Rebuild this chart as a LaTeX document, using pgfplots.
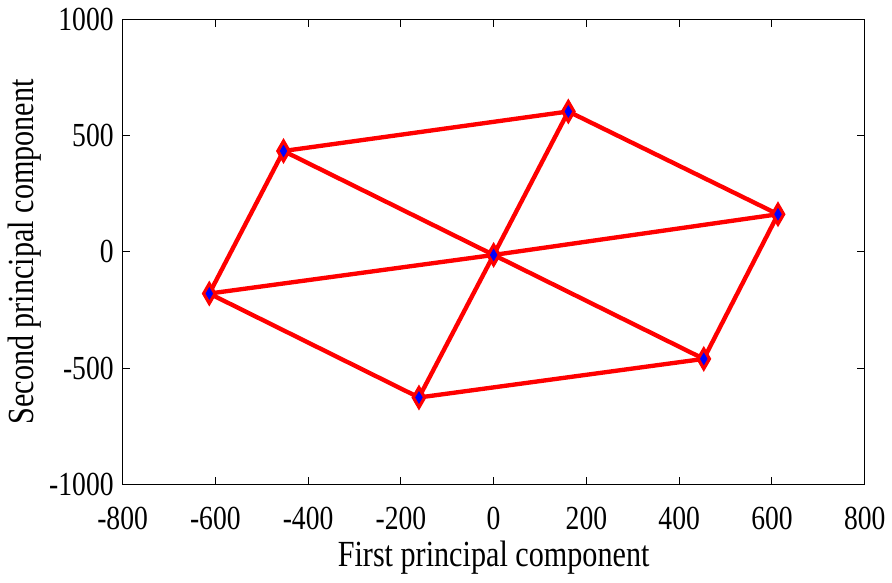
\documentclass[border=0pt]{standalone}
\usepackage{fontspec}
\setmainfont{Liberation Serif}
\usepackage{pgfplots}
\pgfplotsset{compat=1.18}

\begin{document}
\begin{tikzpicture}
\begin{axis}[
  scale only axis, width=375bp, height=235bp,
  xmin=-800, xmax=800, ymin=-1000, ymax=1000,
  xtick={-800,-600,...,800}, ytick={-1000,-500,0,500,1000},
  tick align=inside, major tick length=4bp,
  axis line style={line width=0.7bp},
  every tick/.style={black, line width=0.5bp},
  /pgf/number format/assume math mode=true,
  /pgf/number format/1000 sep={},
  tick label style={font=\fontsize{14}{16}\selectfont, transform shape, yscale=1.22},
  xticklabel style={yshift=-6bp},
  yticklabel style={xshift=-1bp},
  label style={font=\fontsize{15.3}{17}\selectfont, transform shape, yscale=1.22},
  xlabel={First principal component},
  ylabel={Second principal component},
  xlabel style={yshift=2.5bp},
  ylabel style={yshift=-3bp},
  clip=false,
]
% hexagon and diagonals
\addplot[red, line width=2.2bp, line join=round, mark=none] coordinates {
  (-613,-179) (-453,434) (161,604) (613,162) (453,-460) (-161,-626) (-613,-179)};
\addplot[red, line width=2.2bp, mark=none] coordinates {(-613,-179) (0,-13) (613,162)};
\addplot[red, line width=2.2bp, mark=none] coordinates {(-453,434) (0,-13) (453,-460)};
\addplot[red, line width=2.2bp, mark=none] coordinates {(161,604) (0,-13) (-161,-626)};
% markers
\addplot[only marks, mark=diamond*, mark size=4.6bp,
  mark options={fill=red, draw=red, yscale=1.3, line width=0.6bp}] coordinates {
  (-613,-179) (-453,434) (161,604) (613,162) (453,-460) (-161,-626) (0,-13)};
\addplot[only marks, mark=diamond*, mark size=2.2bp,
  mark options={fill=blue, draw=blue, yscale=1.3}] coordinates {
  (-613,-179) (-453,434) (161,604) (613,162) (453,-460) (-161,-626) (0,-13)};
\end{axis}
\end{tikzpicture}
\end{document}
